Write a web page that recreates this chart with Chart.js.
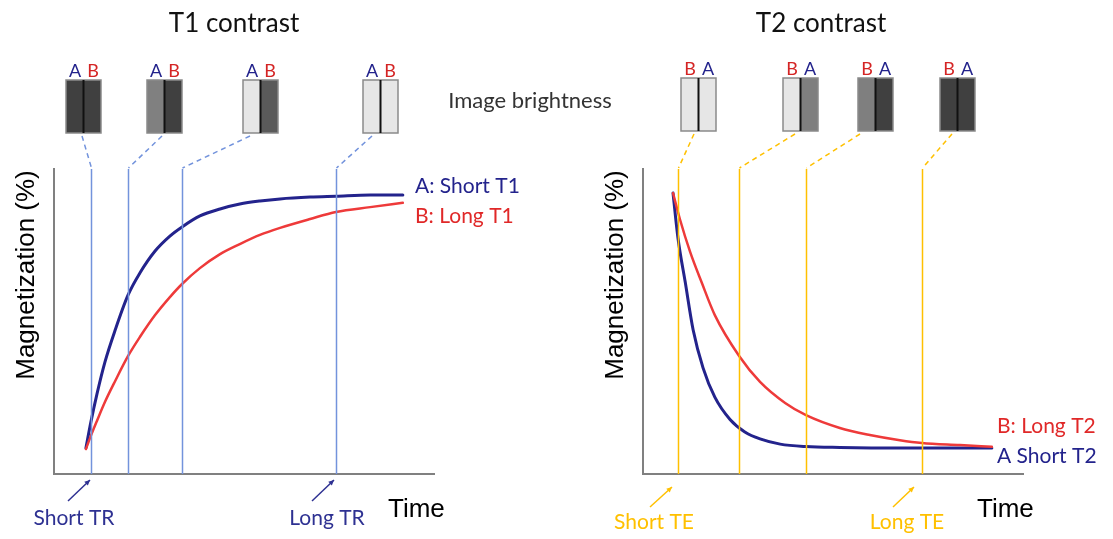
<!DOCTYPE html>
<html>
<head>
<meta charset="utf-8">
<script src="https://cdn.jsdelivr.net/npm/chart.js@4.4.0/dist/chart.umd.min.js"></script>
<style>
  html, body { margin: 0; padding: 0; background: #fff; }
  #wrap { position: relative; width: 1113px; height: 539px; }
  canvas { position: absolute; left: 0; top: 0; }
</style>
</head>
<body>
<div id="wrap">
  <canvas id="t1Chart" width="1113" height="539"></canvas>
  <canvas id="t2Chart" width="1113" height="539"></canvas>
</div>
<script>
// T1 recovery, left panel (time 0-100, magnetization %)
const t1Time   = [8.4, 9.7, 11.3, 13.4, 16.1, 19.5, 22.6, 26.6, 30.5, 33.7, 38.4, 43.7, 48.9, 54.2, 59.5, 67.4, 74.2, 83.2, 91.8];
const t1ShortA = [8.5, 17.0, 26.2, 36.7, 47.2, 58.7, 65.9, 73.1, 78.0, 81.0, 84.6, 86.9, 88.5, 89.5, 90.2, 90.8, 91.1, 91.5, 91.5];
const t1LongB  = [8.2, 12.5, 17.4, 23.6, 30.5, 38.7, 44.9, 52.1, 58.0, 62.3, 67.5, 72.1, 75.4, 78.4, 80.7, 83.6, 85.9, 87.5, 88.9];
const trTimes  = [9.7, 19.5, 33.7, 74.2];

// T2 decay, right panel
const t2TimeA  = [7.9, 9.2, 11.1, 13.2, 15.8, 18.9, 22.9, 26.8, 30.8, 36.1, 42.9, 51.8, 67.6, 83.4, 91.8];
const t2ShortA = [92.1, 77.4, 63.0, 47.2, 34.8, 25.2, 17.9, 13.8, 11.5, 9.8, 9.0, 8.7, 8.5, 8.5, 8.5];
const t2TimeB  = [7.9, 9.7, 12.4, 15.5, 18.9, 25.3, 30.8, 37.4, 42.9, 51.8, 59.7, 67.6, 73.4, 83.4, 91.8];
const t2LongB  = [92.1, 83.6, 72.8, 62.6, 52.1, 38.7, 30.2, 23.3, 19.3, 15.1, 12.8, 11.1, 10.2, 9.5, 8.9];
const teTimes  = [9.2, 25.3, 42.9, 73.4];

// image brightness swatches, [left half, right half]
const t1Swatches = [['#404040', '#404040'], ['#808080', '#404040'], ['#e6e6e6', '#5a5a5a'], ['#e6e6e6', '#e6e6e6']];
const t2Swatches = [['#e6e6e6', '#e6e6e6'], ['#e6e6e6', '#7f7f7f'], ['#7f7f7f', '#404040'], ['#404040', '#404040']];

const NAVY = '#23238c';
const RED = '#ee3a3a';
const LABEL_FONT = 'Lato, "Open Sans", sans-serif';
const ARIAL = '"Liberation Sans", Arial, sans-serif';

function pts(xs, ys) {
  return xs.map((x, i) => ({ x: x, y: ys[i] }));
}

function arrow(ctx, x1, y1, x2, y2, color) {
  ctx.strokeStyle = color;
  ctx.fillStyle = color;
  ctx.lineWidth = 1.5;
  ctx.beginPath();
  ctx.moveTo(x1, y1);
  ctx.lineTo(x2, y2);
  ctx.stroke();
  const a = Math.atan2(y2 - y1, x2 - x1);
  ctx.beginPath();
  ctx.moveTo(x2, y2);
  ctx.lineTo(x2 - 6 * Math.cos(a - 0.45), y2 - 6 * Math.sin(a - 0.45));
  ctx.lineTo(x2 - 6 * Math.cos(a + 0.45), y2 - 6 * Math.sin(a + 0.45));
  ctx.closePath();
  ctx.fill();
}

const panelDecor = {
  id: 'decor',
  afterDatasetsDraw(chart, args, o) {
    const ctx = chart.ctx;
    const xs = chart.scales.x, ys = chart.scales.y;
    const top = ys.getPixelForValue(100), bottom = ys.getPixelForValue(0);
    ctx.save();

    // marker lines + dashed links to the swatches
    o.times.forEach((t, i) => {
      const x = Math.round(xs.getPixelForValue(t)) + 0.5;
      ctx.strokeStyle = o.lineColor;
      ctx.lineWidth = 1.5;
      ctx.beginPath();
      ctx.moveTo(x, top);
      ctx.lineTo(x, bottom);
      ctx.stroke();
      ctx.setLineDash([5, 4]);
      ctx.beginPath();
      ctx.moveTo(o.linkFrom[i], o.boxY + 56);
      ctx.lineTo(x, top - 1);
      ctx.stroke();
      ctx.setLineDash([]);
    });

    // swatches
    o.boxX.forEach((bx, i) => {
      const w = 35, h = 53, y = o.boxY;
      ctx.fillStyle = o.swatches[i][0];
      ctx.fillRect(bx, y, w / 2, h);
      ctx.fillStyle = o.swatches[i][1];
      ctx.fillRect(bx + w / 2, y, w / 2, h);
      ctx.strokeStyle = '#8a8a8a';
      ctx.lineWidth = 1.5;
      ctx.strokeRect(bx, y, w, h);
      ctx.strokeStyle = '#111';
      ctx.lineWidth = 2;
      ctx.beginPath();
      ctx.moveTo(bx + w / 2, y);
      ctx.lineTo(bx + w / 2, y + h);
      ctx.stroke();
      ctx.font = '18px ' + LABEL_FONT;
      ctx.textAlign = 'center';
      ctx.textBaseline = 'alphabetic';
      ctx.fillStyle = o.letterColors[0];
      ctx.fillText(o.letters[0], bx + 9, y - 3);
      ctx.fillStyle = o.letterColors[1];
      ctx.fillText(o.letters[1], bx + 27, y - 3);
    });

    // title
    ctx.fillStyle = '#111';
    ctx.font = '26px ' + LABEL_FONT;
    ctx.textAlign = 'center';
    ctx.fillText(o.title, o.titleX, 32);

    // axis titles
    ctx.font = '26px ' + ARIAL;
    ctx.fillStyle = '#000';
    ctx.textAlign = 'left';
    ctx.fillText('Time', chart.chartArea.right - 46, 517);
    ctx.save();
    ctx.translate(o.yTitleX, 275);
    ctx.rotate(-Math.PI / 2);
    ctx.textAlign = 'center';
    ctx.fillText('Magnetization (%)', 0, 0);
    ctx.restore();

    // curve labels
    ctx.font = '21px ' + LABEL_FONT;
    ctx.textAlign = 'left';
    o.curveLabels.forEach(l => {
      ctx.fillStyle = l.color;
      ctx.fillText(l.text, l.x, l.y);
    });

    // short / long markers
    ctx.font = '21px ' + LABEL_FONT;
    ctx.textAlign = 'center';
    o.marks.forEach(m => {
      ctx.fillStyle = o.markColor;
      ctx.fillText(m.text, m.x, m.y);
      arrow(ctx, m.ax, m.ay, m.bx, m.by, o.markColor);
    });

    if (o.brightness) {
      ctx.font = '22px ' + LABEL_FONT;
      ctx.fillStyle = '#333';
      ctx.textAlign = 'center';
      ctx.fillText('Image brightness', 530, 108);
    }
    ctx.restore();
  }
};

function axisCfg() {
  return {
    type: 'linear', min: 0, max: 100,
    grid: { display: false, drawTicks: false },
    border: { display: true, color: '#808080', width: 2 },
    ticks: { display: false }
  };
}

function makeChart(id, datasets, padding, decor) {
  return new Chart(document.getElementById(id), {
    type: 'line',
    data: { datasets: datasets },
    options: {
      responsive: false,
      animation: false,
      devicePixelRatio: 1,
      layout: { padding: padding },
      scales: { x: axisCfg(), y: axisCfg() },
      elements: { point: { radius: 0 }, line: { cubicInterpolationMode: 'monotone', borderCapStyle: 'round' } },
      plugins: { legend: { display: false }, tooltip: { enabled: false }, decor: decor }
    },
    plugins: [panelDecor]
  });
}

makeChart('t1Chart', [
  { label: 'B: Long T1', data: pts(t1Time, t1LongB), borderColor: RED, borderWidth: 2.5 },
  { label: 'A: Short T1', data: pts(t1Time, t1ShortA), borderColor: NAVY, borderWidth: 3 }
], { left: 54, top: 169, right: 679, bottom: 65 }, {
  title: 'T1 contrast', titleX: 234,
  times: trTimes, lineColor: '#7393dc',
  boxX: [66, 147, 243, 363], boxY: 80, swatches: t1Swatches,
  linkFrom: [82, 162, 250, 372],
  letters: ['A', 'B'], letterColors: [NAVY, '#d42424'],
  yTitleX: 34,
  curveLabels: [
    { text: 'A: Short T1', x: 415, y: 193, color: NAVY },
    { text: 'B: Long T1', x: 415, y: 223, color: '#e02828' }
  ],
  markColor: '#2e3192',
  marks: [
    { text: 'Short TR', x: 74, y: 525, ax: 68, ay: 501, bx: 90, by: 480 },
    { text: 'Long TR', x: 327, y: 525, ax: 312, ay: 501, bx: 334, by: 480 }
  ],
  brightness: true
});

makeChart('t2Chart', [
  { label: 'B: Long T2', data: pts(t2TimeB, t2LongB), borderColor: RED, borderWidth: 2.5 },
  { label: 'A Short T2', data: pts(t2TimeA, t2ShortA), borderColor: NAVY, borderWidth: 3 }
], { left: 643, top: 169, right: 90, bottom: 65 }, {
  title: 'T2 contrast', titleX: 821,
  times: teTimes, lineColor: '#ffc000',
  boxX: [681, 783, 858, 940], boxY: 78, swatches: t2Swatches,
  linkFrom: [694, 795, 860, 952],
  letters: ['B', 'A'], letterColors: ['#d42424', NAVY],
  yTitleX: 623,
  curveLabels: [
    { text: 'B: Long T2', x: 997, y: 433, color: '#e02828' },
    { text: 'A Short T2', x: 997, y: 463, color: NAVY }
  ],
  markColor: '#ffc000',
  marks: [
    { text: 'Short TE', x: 654, y: 529, ax: 650, ay: 507, bx: 672, by: 487 },
    { text: 'Long TE', x: 907, y: 529, ax: 893, ay: 507, bx: 914, by: 487 }
  ],
  brightness: false
});
</script>
</body>
</html>
